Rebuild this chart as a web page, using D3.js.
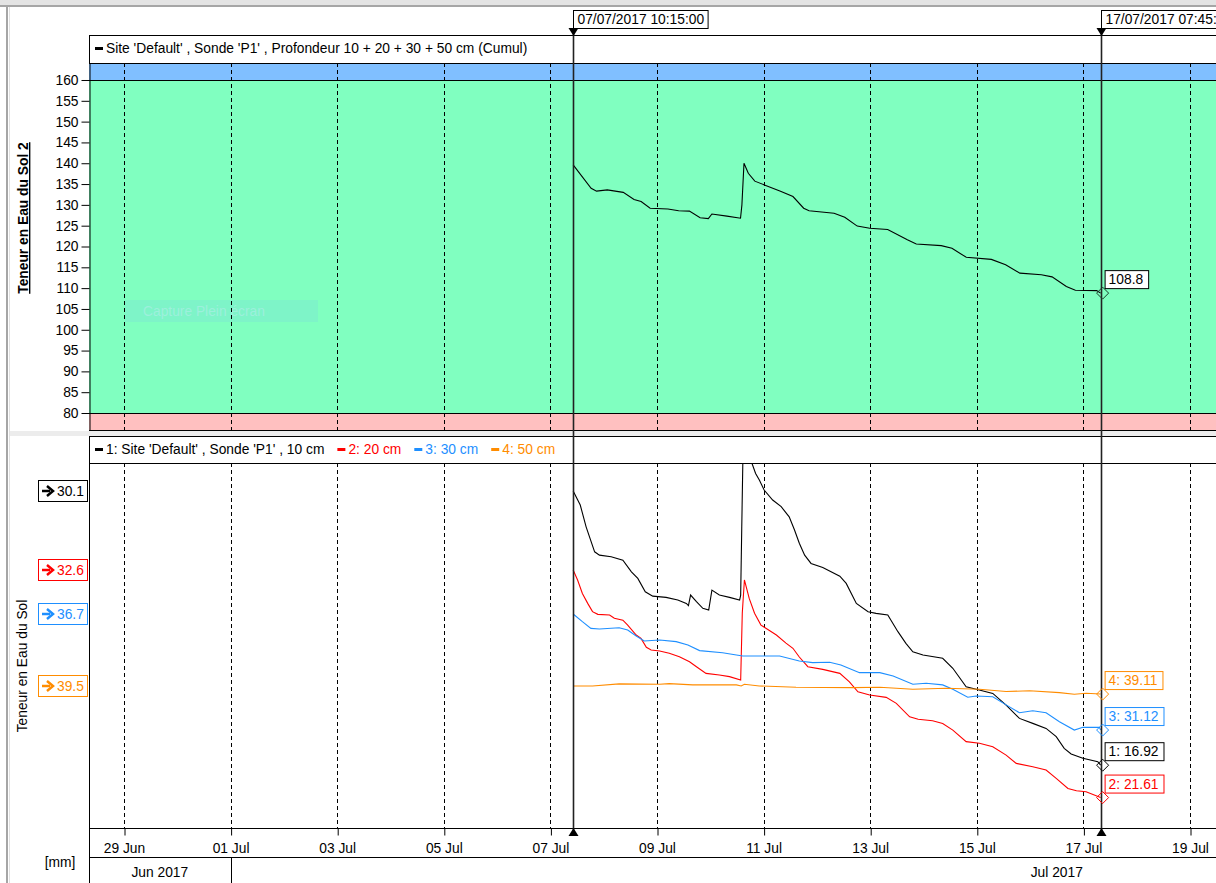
<!DOCTYPE html>
<html><head><meta charset="utf-8">
<script src="https://cdn.jsdelivr.net/npm/d3@7"></script>
<style>
body{margin:0;background:#fff;}
text{font-family:"Liberation Sans",Arial,sans-serif;font-size:13.8px;}
</style>
</head><body>
<svg id="c" width="1216" height="883"></svg>
<script>
// ---------------- DATA ----------------
const xTickDates = ["2017-06-29","2017-07-01","2017-07-03","2017-07-05","2017-07-07","2017-07-09","2017-07-11","2017-07-13","2017-07-15","2017-07-17","2017-07-19"];
const monthStarts = ["2017-06-01","2017-07-01","2017-08-01"];
const monthLabels = ["Jun 2017","Jul 2017"];
const yTicksTop = [80,85,90,95,100,105,110,115,120,125,130,135,140,145,150,155,160];
const bandLimits = [80,160];
const cursorTimes = ["2017-07-07T10:15:00","2017-07-17T07:45:00"];
const cursorLabels = ["07/07/2017 10:15:00","17/07/2017 07:45:00"];
const topLegend = "Site 'Default' , Sonde 'P1' , Profondeur 10 + 20 + 30 + 50 cm (Cumul)";
const topTitle = "Teneur en Eau du Sol 2";
const bottomTitle = "Teneur en Eau du Sol";
const unitLabel = "[mm]";
const watermark = "Capture Plein écran";

// [day of July (fractional), value]
const cumulPoints = [[7.427,139.6],[7.764,134.0],[7.866,133.3],[8.067,133.6],[8.367,133.0],[8.569,131.3],[8.702,130.8],[8.871,129.2],[9.205,129.0],[9.406,128.6],[9.608,128.5],[9.809,126.9],[9.963,126.7],[10.030,127.8],[10.312,127.3],[10.567,126.8],[10.593,130.0],[10.632,140.0],[10.713,137.6],[10.835,135.7],[11.015,134.8],[11.317,133.3],[11.551,132.0],[11.752,129.2],[11.853,128.6],[12.322,128.0],[12.523,127.0],[12.757,124.9],[12.992,124.4],[13.328,124.1],[13.697,121.6],[13.864,120.6],[14.333,120.2],[14.534,119.6],[14.802,117.4],[15.273,116.9],[15.541,115.6],[15.809,113.6],[16.211,113.2],[16.412,112.7],[16.680,110.4],[16.849,109.5],[17.25,109.4],[17.323,108.8]];
const cumulEnd = 108.8;

const sonde10 = [[7.427,30.1],[7.56,29.43],[7.67,28.38],[7.83,27.18],[7.92,27.02],[8.14,26.94],[8.36,26.78],[8.52,26.22],[8.64,25.90],[8.78,25.26],[8.92,25.05],[9.17,24.99],[9.39,24.86],[9.55,24.70],[9.59,24.59],[9.63,25.10],[9.74,24.78],[9.86,24.46],[9.97,24.38],[10.03,25.34],[10.17,25.10],[10.36,24.99],[10.55,24.86],[10.57,25.10],[10.59,28.31],[10.62,33.0],[10.66,33.2],[10.78,31.45],[10.85,30.95],[10.92,30.63],[11.01,30.15],[11.17,29.67],[11.33,29.35],[11.48,28.86],[11.58,28.23],[11.67,27.59],[11.77,27.02],[11.89,26.62],[12.11,26.43],[12.43,26.01],[12.55,25.66],[12.74,24.70],[12.96,24.30],[13.11,24.22],[13.33,24.14],[13.52,23.34],[13.67,22.78],[13.80,22.37],[13.99,22.22],[14.36,22.06],[14.55,21.58],[14.80,20.69],[14.99,20.57],[15.30,20.37],[15.55,19.81],[15.80,19.17],[16.05,18.93],[16.30,18.69],[16.49,18.29],[16.64,17.73],[16.77,17.46],[16.99,17.25],[17.27,17.09],[17.323,16.92]];
const sonde20 = [[7.427,32.6],[7.51,32.12],[7.60,31.47],[7.70,30.99],[7.79,30.59],[7.89,30.46],[8.11,30.43],[8.20,30.27],[8.36,30.18],[8.45,29.94],[8.61,29.46],[8.70,29.30],[8.80,28.87],[8.89,28.74],[9.05,28.69],[9.23,28.58],[9.42,28.41],[9.61,28.17],[9.74,27.93],[9.92,27.61],[10.17,27.53],[10.36,27.45],[10.57,27.29],[10.60,30.51],[10.64,32.12],[10.73,31.23],[10.83,30.51],[10.95,29.94],[11.05,29.78],[11.24,29.46],[11.42,29.07],[11.55,28.82],[11.67,28.40],[11.83,27.93],[12.11,27.80],[12.43,27.61],[12.61,27.20],[12.77,26.72],[12.99,26.56],[13.30,26.45],[13.49,26.16],[13.74,25.51],[13.90,25.39],[14.17,25.32],[14.36,25.19],[14.55,24.87],[14.80,24.31],[15.05,24.23],[15.30,24.06],[15.55,23.66],[15.74,23.26],[16.05,23.10],[16.30,22.94],[16.49,22.54],[16.71,22.05],[16.87,21.94],[17.05,21.89],[17.323,21.61]];
const sonde30 = [[7.427,36.7],[7.60,36.33],[7.76,36.01],[7.92,35.98],[8.29,36.04],[8.45,35.93],[8.61,35.64],[8.76,35.40],[9.05,35.45],[9.36,35.37],[9.58,35.21],[9.80,34.94],[10.23,34.84],[10.49,34.73],[10.61,34.68],[11.30,34.68],[11.67,34.44],[11.92,34.36],[12.24,34.38],[12.45,34.25],[12.80,33.88],[13.18,33.88],[13.43,33.72],[13.80,33.32],[14.05,33.37],[14.36,33.29],[14.55,33.08],[14.83,32.70],[14.99,32.76],[15.30,32.72],[15.55,32.33],[15.80,31.95],[16.05,32.05],[16.30,31.95],[16.55,31.52],[16.83,31.12],[16.99,31.25],[17.30,31.25],[17.323,31.12]];
const sonde50 = [[7.427,39.5],[7.79,39.50],[8.29,39.60],[9.05,39.58],[9.23,39.61],[9.67,39.55],[10.49,39.55],[10.58,39.50],[10.64,39.58],[10.92,39.50],[11.61,39.44],[12.67,39.42],[13.18,39.44],[13.80,39.34],[14.43,39.39],[15.05,39.34],[15.55,39.23],[15.99,39.27],[16.55,39.18],[16.83,39.10],[17.05,39.15],[17.323,39.11]];

const seriesNames = ["1: Site 'Default' , Sonde 'P1' , 10 cm","2: 20 cm","3: 30 cm","4: 50 cm"];
const seriesColors = ["#000000","#ff0000","#1e8fff","#ff8c00"];
const seriesStart = [30.1,32.6,36.7,39.5];
const seriesEnd = [16.92,21.61,31.12,39.11];
const seriesDomains = [[13.90,31.45],[20.14,37.77],[26.41,43.96],[32.67,50.22]];
const seriesData = [sonde10,sonde20,sonde30,sonde50];

// ---------------- LAYOUT ----------------
const W = 1216, H = 883;
const L = 89, R = 1216;
const topLegY = 35, topPlotY = 63, topPlotB = 430;
const botLegY = 436, botPlotY = 463, botPlotB = 828, axisB = 857;
const FS = 13.8;

const pDay = d3.timeParse("%Y-%m-%d");
const pDT = d3.timeParse("%Y-%m-%dT%H:%M:%S");
const julyStart = new Date(2017,6,1).getTime();
const dayToDate = d => new Date(julyStart + (d-1)*864e5);

const x = d3.scaleTime().domain([pDay("2017-06-29"), pDay("2017-07-19")]).range([124,1190]);
const yTop = d3.scaleLinear().domain([75.92,164.08]).range([topPlotB, topPlotY]);
const yBots = seriesDomains.map(d => d3.scaleLinear().domain(d).range([botPlotB, botPlotY]));

const svg = d3.select("#c");
const defs = svg.append("defs");
defs.append("clipPath").attr("id","clipTop").append("rect").attr("x",L).attr("y",topPlotY).attr("width",R-L).attr("height",topPlotB-topPlotY);
defs.append("clipPath").attr("id","clipBot").append("rect").attr("x",L).attr("y",botPlotY).attr("width",R-L).attr("height",botPlotB-botPlotY);

// window frame
svg.append("rect").attr("x",0).attr("y",0).attr("width",W).attr("height",5).attr("fill","#e4e4e4");
svg.append("line").attr("x1",0).attr("x2",W).attr("y1",6).attr("y2",6).attr("stroke","#a6a6a6").attr("stroke-width",2);
svg.append("line").attr("x1",7).attr("x2",7).attr("y1",6).attr("y2",H).attr("stroke","#a6a6a6").attr("stroke-width",2);
svg.append("line").attr("x1",9.5).attr("x2",9.5).attr("y1",7).attr("y2",H).attr("stroke","#e0e0e0").attr("stroke-width",1);

// separator strip
svg.append("rect").attr("x",10).attr("y",topPlotB+1).attr("width",W-10).attr("height",botLegY-topPlotB-1).attr("fill","#ececec");

// ---------- TOP PANEL ----------
const yMax = yTop.domain()[1], yMin = yTop.domain()[0];
svg.append("rect").attr("x",L).attr("y",yTop(yMax)).attr("width",R-L).attr("height",yTop(bandLimits[1])-yTop(yMax)).attr("fill","#80bfff");
svg.append("rect").attr("x",L).attr("y",yTop(bandLimits[1])).attr("width",R-L).attr("height",yTop(bandLimits[0])-yTop(bandLimits[1])).attr("fill","#80ffc0");
svg.append("rect").attr("x",L).attr("y",yTop(bandLimits[0])).attr("width",R-L).attr("height",yTop(yMin)-yTop(bandLimits[0])).attr("fill","#ffc0c0");

// watermark
const wm = svg.append("g");
wm.append("rect").attr("x",125).attr("y",300).attr("width",193).attr("height",22).attr("fill","#7ef4c8");
wm.append("text").attr("x",143).attr("y",316).attr("fill","#9cf0dc").text(watermark);

const tickDates = xTickDates.map(pDay);
svg.append("g").selectAll("line").data(tickDates).join("line")
  .attr("x1",d=>Math.round(x(d))+0.5).attr("x2",d=>Math.round(x(d))+0.5)
  .attr("y1",topPlotY).attr("y2",topPlotB)
  .attr("stroke","#000").attr("stroke-dasharray","4,3");

bandLimits.forEach(v=>{
  svg.append("line").attr("x1",L).attr("x2",R).attr("y1",Math.round(yTop(v))+0.5).attr("y2",Math.round(yTop(v))+0.5).attr("stroke","#000");
});

// legend box top
svg.append("rect").attr("x",L+0.5).attr("y",topLegY+0.5).attr("width",R-L+5).attr("height",topPlotY-topLegY).attr("fill","#fff").attr("stroke","#000");
svg.append("rect").attr("x",95).attr("y",47).attr("width",8).attr("height",3).attr("fill","#000");
svg.append("text").attr("x",106).attr("y",53).attr("fill","#000").text(topLegend);

// plot bottom line
svg.append("line").attr("x1",L).attr("x2",R).attr("y1",topPlotB+0.5).attr("y2",topPlotB+0.5).attr("stroke","#000");

// y axis
const ax = svg.append("g").attr("transform",`translate(${L+0.5},0)`)
  .call(d3.axisLeft(yTop).tickValues(yTicksTop).tickSize(8).tickSizeOuter(0).tickPadding(3));
ax.select(".domain").attr("stroke","#000");
ax.selectAll("text").attr("font-size",FS).attr("fill","#000").attr("font-family","Liberation Sans, Arial, sans-serif");

// cumul line
const lineTop = d3.line().x(d=>x(dayToDate(d[0]))).y(d=>yTop(d[1]));
svg.append("path").datum(cumulPoints).attr("clip-path","url(#clipTop)")
  .attr("d",lineTop).attr("fill","none").attr("stroke","#000").attr("stroke-width",1.1);

// ---------- BOTTOM PANEL ----------
svg.append("rect").attr("x",L+0.5).attr("y",botLegY+0.5).attr("width",R-L+5).attr("height",botPlotY-botLegY).attr("fill","#fff").attr("stroke","#000");
{
  const g = svg.append("g");
  let cx = 95;
  seriesNames.forEach((n,i)=>{
    g.append("rect").attr("x",cx).attr("y",448).attr("width",8).attr("height",3).attr("fill",seriesColors[i]);
    const t = g.append("text").attr("x",cx+11).attr("y",454).attr("fill",seriesColors[i]).text(n);
    cx = cx + 11 + t.node().getComputedTextLength() + 13;
  });
}

svg.append("g").selectAll("line").data(tickDates).join("line")
  .attr("x1",d=>Math.round(x(d))+0.5).attr("x2",d=>Math.round(x(d))+0.5)
  .attr("y1",botPlotY).attr("y2",botPlotB)
  .attr("stroke","#000").attr("stroke-dasharray","4,3");

// x axis
const xa = svg.append("g").attr("transform",`translate(0,${botPlotB+0.5})`)
  .call(d3.axisBottom(x).tickValues(tickDates).tickFormat(d3.timeFormat("%d %b")).tickSize(7).tickSizeOuter(0).tickPadding(8));
xa.select(".domain").remove();
xa.selectAll("text").attr("font-size",FS).attr("fill","#000").attr("font-family","Liberation Sans, Arial, sans-serif");
xa.selectAll(".tick line").attr("transform","translate(0.5,0)");
svg.append("line").attr("x1",L).attr("x2",R).attr("y1",botPlotB+0.5).attr("y2",botPlotB+0.5).attr("stroke","#000");
svg.append("line").attr("x1",L).attr("x2",R).attr("y1",axisB+0.5).attr("y2",axisB+0.5).attr("stroke","#000");
svg.append("line").attr("x1",L+0.5).attr("x2",L+0.5).attr("y1",botLegY).attr("y2",H).attr("stroke","#000");
const mStarts = monthStarts.map(pDay);
monthLabels.forEach((m,i)=>{
  const a = Math.max(L, x(mStarts[i])), b = x(mStarts[i+1]);
  svg.append("text").attr("x",(a+b)/2).attr("y",877).attr("text-anchor","middle").attr("fill","#000").text(m);
  if (x(mStarts[i+1]) < R) svg.append("line").attr("x1",Math.round(x(mStarts[i+1]))+0.5).attr("x2",Math.round(x(mStarts[i+1]))+0.5).attr("y1",axisB).attr("y2",H).attr("stroke","#000");
});

// series lines
seriesData.forEach((s,i)=>{
  const ln = d3.line().x(d=>x(dayToDate(d[0]))).y(d=>yBots[i](d[1]));
  svg.append("path").datum(s).attr("clip-path","url(#clipBot)")
    .attr("d",ln).attr("fill","none").attr("stroke",seriesColors[i]).attr("stroke-width",1.1);
});

// ---------- CURSORS ----------
const cTimes = cursorTimes.map(pDT);
cTimes.forEach((t,i)=>{
  const cx = Math.round(x(t))+0.5;
  svg.append("line").attr("x1",cx).attr("x2",cx).attr("y1",28).attr("y2",836).attr("stroke","#222").attr("stroke-width",1.6);
  svg.append("path").attr("d",`M${cx-5},28L${cx+5},28L${cx},36Z`).attr("fill","#000");
  svg.append("path").attr("d",`M${cx-5},836L${cx+5},836L${cx},828Z`).attr("fill","#000");
  const g = svg.append("g");
  const r = g.append("rect").attr("x",cx).attr("y",10.5).attr("height",18).attr("fill","#fff").attr("stroke","#000");
  const tx = g.append("text").attr("x",cx+4).attr("y",24).attr("fill","#000").text(cursorLabels[i]);
  r.attr("width",tx.node().getComputedTextLength()+8);
});

// ---------- MARKERS & LABELS ----------
function diamond(g, px, py, col){
  g.append("path").attr("d",`M${px-6},${py}L${px},${py-6}L${px+6},${py}L${px},${py+6}Z`)
   .attr("fill","none").attr("stroke",col).attr("stroke-width",1);
}
function endLabel(g, px, py, txt, col){
  const t = g.append("text").attr("x",px+8).attr("y",py-9).attr("fill",col).text(txt);
  const w = t.node().getComputedTextLength();
  g.insert("rect","text").attr("x",px+4.5).attr("y",py-22.5).attr("width",w+9).attr("height",18).attr("fill","#fff").attr("stroke",col);
}
{
  const last = cumulPoints[cumulPoints.length-1];
  const px = x(dayToDate(last[0])), py = yTop(cumulEnd);
  const g = svg.append("g");
  diamond(g, px+2, py, "#1a3a2a");
  endLabel(g, px, py, cumulEnd.toFixed(1), "#000");
}
seriesData.forEach((s,i)=>{
  const last = s[s.length-1];
  const px = x(dayToDate(last[0])), py = yBots[i](seriesEnd[i]);
  const g = svg.append("g");
  diamond(g, px+2, py, seriesColors[i]);
  endLabel(g, px, py, `${i+1}: ${seriesEnd[i].toFixed(2)}`, seriesColors[i]);
});

// start labels on left
seriesStart.forEach((v,i)=>{
  const py = Math.round(yBots[i](v));
  const col = seriesColors[i];
  const g = svg.append("g");
  g.append("rect").attr("x",38.5).attr("y",py-10.5).attr("width",49).attr("height",21).attr("fill","#fff").attr("stroke",col);
  g.append("line").attr("x1",42).attr("x2",50).attr("y1",py).attr("y2",py).attr("stroke",col).attr("stroke-width",2.5);
  g.append("path").attr("d",`M${47},${py-5}L${53},${py}L${47},${py+5}`).attr("fill","none").attr("stroke",col).attr("stroke-width",2.5);
  g.append("text").attr("x",57).attr("y",py+5).attr("fill",col).text(v.toFixed(1));
});

// ---------- TITLES ----------
svg.append("text").attr("transform","translate(28,218) rotate(-90)").attr("text-anchor","middle")
  .attr("font-weight","bold").attr("text-decoration","underline").attr("fill","#000").text(topTitle);
svg.append("text").attr("transform","translate(27,666) rotate(-90)").attr("text-anchor","middle")
  .attr("fill","#000").text(bottomTitle);
svg.append("text").attr("x",60).attr("y",867).attr("text-anchor","middle").attr("fill","#000").text(unitLabel);
</script>
</body></html>
